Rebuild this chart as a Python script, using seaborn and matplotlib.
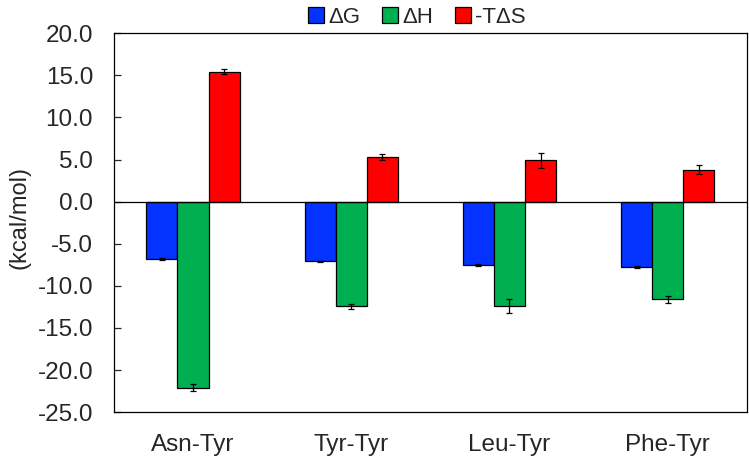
import matplotlib
matplotlib.use('Agg')
import matplotlib.pyplot as plt
import pandas as pd
import seaborn as sns

#%% Dados
peptides = ['Asn-Tyr', 'Tyr-Tyr', 'Leu-Tyr', 'Phe-Tyr']
terms = ['ΔG', 'ΔH', '-TΔS']
dG = [-6.8, -7.1, -7.5, -7.8]
dH = [-22.1, -12.4, -12.4, -11.6]
mTdS = [15.4, 5.3, 4.9, 3.8]
err_dG = [0.1, 0.1, 0.15, 0.1]
err_dH = [0.4, 0.3, 0.8, 0.4]
err_mTdS = [0.3, 0.3, 0.9, 0.5]
yticks = [20, 15, 10, 5, 0, -5, -10, -15, -20, -25]
colors = ['#0433ff', '#00b050', '#ff0000']

df = pd.DataFrame({
    'peptide': peptides * 3,
    'term': [t for t in terms for _ in peptides],
    'value': dG + dH + mTdS,
    'err': err_dG + err_dH + err_mTdS,
})

#%% Figura
sns.set_style('white')
plt.rcParams['font.family'] = ['Liberation Sans', 'DejaVu Sans']

fig, ax = plt.subplots(figsize=(7.49, 4.61), dpi=100)
fig.subplots_adjust(left=0.152, right=0.997, top=0.928, bottom=0.106)

sns.barplot(data=df, x='peptide', y='value', hue='term', order=peptides,
            hue_order=terms, palette=colors, width=0.59, gap=0,
            edgecolor='black', linewidth=0.9, errorbar=None, saturation=1,
            ax=ax)

# barras de erro a partir das posições das barras
for cont, term in zip(ax.containers, terms):
    sub = df[df['term'] == term].set_index('peptide').loc[peptides]
    xs = [b.get_x() + b.get_width() / 2 for b in cont]
    ax.errorbar(xs, sub['value'], yerr=sub['err'], fmt='none',
                ecolor='black', elinewidth=0.9, capsize=2.5, capthick=0.9)

ax.axhline(0, color='black', lw=0.9, zorder=3)
ax.set_ylim(-25, 20)
ax.set_xlim(-0.5, 3.5)
ax.set_yticks(yticks)
ax.set_yticklabels([f'{v:.1f}' for v in yticks], fontsize=17.5)
ax.tick_params(axis='y', direction='in', length=5, width=0.9, left=True, pad=15)
ax.tick_params(axis='x', length=0, labelsize=17.5, pad=16)
ax.set_xlabel('')
ax.set_ylabel('(kcal/mol)', fontsize=17, labelpad=5)
ax.yaxis.set_label_coords(-0.152 + 0.021, 0.513)
for s in ax.spines.values():
    s.set_color('black')
    s.set_linewidth(0.9)

ax.legend(loc='lower center', bbox_to_anchor=(0.479, 1.003), ncol=3,
          frameon=False, fontsize=16, handlelength=0.7, handleheight=0.7,
          handletextpad=0.2, columnspacing=1.0, borderaxespad=0,
          borderpad=0.2)

fig.savefig('out.png', dpi=100)
